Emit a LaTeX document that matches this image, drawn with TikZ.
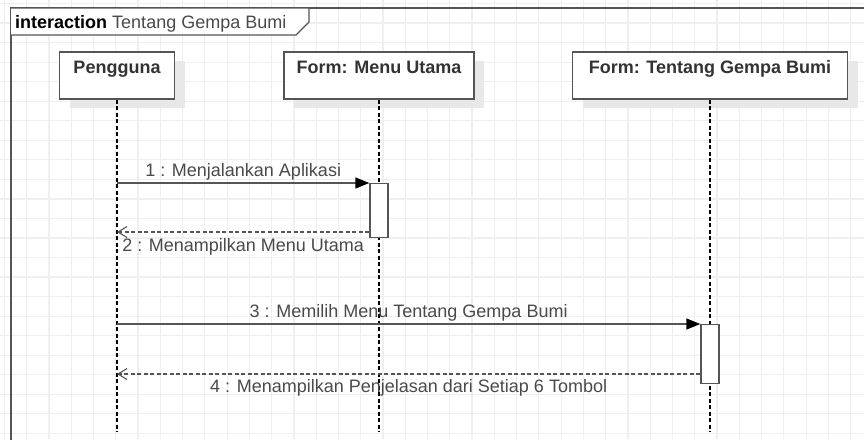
\documentclass[tikz,border=0pt]{standalone}
\usepackage{fontspec}
\setmainfont{Liberation Sans}
\usetikzlibrary{arrows.meta,shadows}

\definecolor{gridline}{HTML}{EFEFEF}
\definecolor{umlline}{HTML}{555555}
\definecolor{umltext}{HTML}{4A4A4A}
\newcommand\diagfont{\fontsize{18}{22}\selectfont}

\tikzset{
  lifebox/.style={draw=umlline, line width=1.4pt, fill=white, inner sep=0pt,
    text height=21pt, text depth=26pt, font=\diagfont\bfseries, text=black!80,
    drop shadow={shadow xshift=10pt, shadow yshift=-9pt, fill=black!9, opacity=1}},
  activation/.style={draw=umlline, line width=1.4pt, fill=white, minimum width=18pt, inner sep=0pt},
  lifeline/.style={dash pattern=on 4pt off 2.5pt, line width=1.1pt},
  callmsg/.style={draw=umlline, line width=1.5pt, -{Triangle[length=14pt,width=11pt,color=black]}},
  replymsg/.style={draw=umlline, line width=1.3pt, dash pattern=on 4pt off 2.5pt,
    -{Straight Barb[length=9pt,width=11pt,line width=1.1pt]}},
  msglabel/.style={text=umltext, inner sep=0pt, anchor=base}
}

\begin{document}
\begin{tikzpicture}[x=1pt, y=-1pt, font=\diagfont]
	\clip (0,0) rectangle (864,439);
	\fill[white] (0,0) rectangle (864,439);
	\foreach \x in {0,...,38} \draw[gridline, line width=1.2pt] (4.4+22.27*\x,0) -- ++(0,439);
	\foreach \y in {0,...,22} \draw[gridline, line width=1.2pt] (0,3.5+19.54*\y) -- ++(864,0);
	% interaction frame and its name tab
	\draw[umlline, line width=1.6pt] (11,450) -- (11,8) -- (880,8);
	\draw[umlline, line width=1.4pt, fill=white] (11,8) -- (309,8) -- (309,22) -- (296,35) -- (11,35);
	\node[anchor=base west, inner sep=0pt] (title) at (15,28) {\textbf{interaction} \textcolor{umltext}{Tentang Gempa Bumi}};
	\node[lifebox, minimum width=115pt, anchor=base] (pengguna) at (117,73) {Pengguna};
	\node[lifebox, minimum width=190pt, anchor=base] (menu) at (379,73) {Form: Menu Utama};
	\node[lifebox, minimum width=275pt, anchor=base] (tentang) at (710,73) {Form: Tentang Gempa Bumi};
	\coordinate (bottom) at (0,432);
	\foreach \obj in {pengguna,menu,tentang}
	  \draw[lifeline] (\obj.south) -- (\obj.south |- bottom);
	\node[activation, minimum height=54pt, anchor=north] (act1) at (menu.south |- 0,183) {};
	\node[activation, minimum height=59pt, anchor=north] (act2) at (tentang.south |- 0,324) {};
	\draw[callmsg] (pengguna.south |- act1.north) -- node[msglabel, yshift=7pt] {1 : Menjalankan Aplikasi} (act1.north west);
	\draw[replymsg] (act1.west |- 0,232) -- node[msglabel, yshift=-19pt] {2 : Menampilkan Menu Utama} (pengguna.south |- 0,232);
	\draw[callmsg] (pengguna.south |- act2.north) -- node[msglabel, yshift=7pt] {3 : Memilih Menu Tentang Gempa Bumi} (act2.north west);
	\draw[replymsg] (act2.west |- 0,374) -- node[msglabel, yshift=-18pt] {4 : Menampilkan Penjelasan dari Setiap 6 Tombol} (pengguna.south |- 0,374);
\end{tikzpicture}
\end{document}
